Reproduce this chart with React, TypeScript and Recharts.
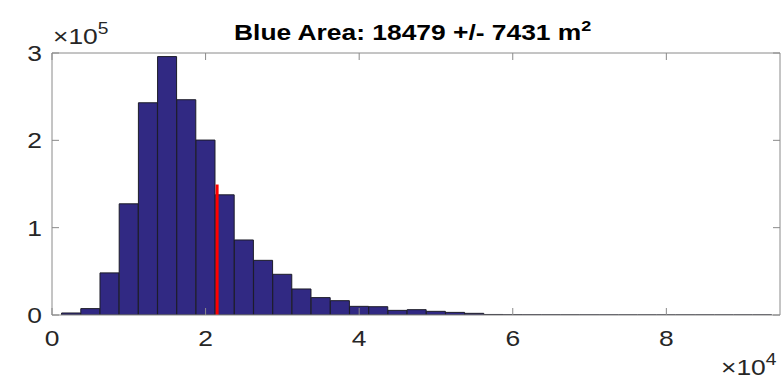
import {
  Bar,
  ComposedChart,
  Customized,
  Label,
  ReferenceLine,
  XAxis,
  YAxis,
} from "recharts";

// histogram bins (centre of each 2500 m² bin) and counts
const binCenters = [
  2500, 5000, 7500, 10000, 12500, 15000, 17500, 20000, 22500, 25000,
  27500, 30000, 32500, 35000, 37500, 40000, 42500, 45000, 47500, 50000,
  52500, 55000, 57500, 60000, 62500, 65000, 67500, 70000, 72500, 75000,
  77500, 80000, 82500, 85000, 87500, 90000, 92500,
];
const binCounts = [
  2300, 7300, 48200, 127300, 243000, 295900, 246500, 200300, 137600, 85900,
  62600, 46600, 29800, 19900, 16400, 9900, 9500, 5300, 6100, 4200,
  3000, 1900, 600, 300, 200, 150, 100, 80, 60, 40,
  40, 30, 20, 20, 10, 10, 10,
];
const xTicks = [0, 20000, 40000, 60000, 80000];
const yTicks = [0, 100000, 200000, 300000];
const xMax = 94800;
const yMax = 300000;
const markerX = 21500;
const markerTop = 149400;
const title = "Blue Area: 18479 +/- 7431 m";

const data = binCenters.map((x, i) => ({ x, count: binCounts[i] }));

const FONT = '"Liberation Sans", Arial, Helvetica, sans-serif';
const AXIS = "#8a8a8a";
const INK = "#262626";
const SX = 1.2; // the source image is stretched horizontally

function BottomTick({ x, y, payload }: any) {
  return (
    <g>
      <line x1={x} y1={y} x2={x} y2={y - 7} stroke={AXIS} />
      <text
        transform={`translate(${x},${y + 31}) scale(${SX},1)`}
        textAnchor="middle"
        fontFamily={FONT}
        fontSize={22}
        fill={INK}
      >
        {payload.value / 10000}
      </text>
    </g>
  );
}

function TopTick({ x, y }: any) {
  return <line x1={x} y1={y} x2={x} y2={y + 7} stroke={AXIS} />;
}

function LeftTick({ x, y, payload }: any) {
  return (
    <g>
      <line x1={x} y1={y} x2={x + 7} y2={y} stroke={AXIS} />
      <text
        transform={`translate(${x - 10},${y + 8}) scale(${SX},1)`}
        textAnchor="end"
        fontFamily={FONT}
        fontSize={22}
        fill={INK}
      >
        {payload.value / 100000}
      </text>
    </g>
  );
}

function RightTick({ x, y }: any) {
  return <line x1={x} y1={y} x2={x - 7} y2={y} stroke={AXIS} />;
}

function Exponent({ x, y, exp }: { x: number; y: number; exp: number }) {
  return (
    <text
      transform={`translate(${x},${y}) scale(${SX},1)`}
      fontFamily={FONT}
      fontSize={22}
      fill={INK}
    >
      ×10
      <tspan dy={-10} fontSize={16}>
        {exp}
      </tspan>
    </text>
  );
}

function Title() {
  return (
    <text
      transform={`translate(234,40) scale(${SX},1)`}
      fontFamily={FONT}
      fontSize={22}
      fontWeight="bold"
      fill="#000"
    >
      {title}
      <tspan dy={-9} fontSize={15}>
        2
      </tspan>
    </text>
  );
}

export default function App() {
  return (
    <div style={{ position: "absolute", left: 0, top: 0, width: 782, height: 379, background: "#fff" }}>
      <ComposedChart
        width={782}
        height={379}
        data={data}
        margin={{ top: 52, right: 1, bottom: 0, left: 0 }}
        barCategoryGap={0}
        barGap={0}
      >
        <XAxis
          xAxisId="bottom"
          dataKey="x"
          type="number"
          domain={[0, xMax]}
          ticks={xTicks}
          allowDataOverflow
          height={64}
          axisLine={{ stroke: AXIS }}
          tickLine={false}
          tickSize={0}
          tickMargin={0}
          tick={<BottomTick />}
          interval={0}
        >
          <Label
            content={({ viewBox }: any) => (
              <Exponent x={viewBox.x + viewBox.width - 59} y={viewBox.y + 60} exp={4} />
            )}
          />
        </XAxis>
        <XAxis
          xAxisId="top"
          orientation="top"
          dataKey="x"
          type="number"
          domain={[0, xMax]}
          ticks={xTicks}
          allowDataOverflow
          height={1}
          axisLine={{ stroke: AXIS }}
          tickLine={false}
          tickSize={0}
          tickMargin={0}
          tick={<TopTick />}
          interval={0}
        />
        <YAxis
          yAxisId="left"
          type="number"
          domain={[0, yMax]}
          ticks={yTicks}
          allowDataOverflow
          width={52}
          axisLine={{ stroke: AXIS }}
          tickLine={false}
          tickSize={0}
          tickMargin={0}
          tick={<LeftTick />}
          interval={0}
        >
          <Label
            content={({ viewBox }: any) => (
              <Exponent x={viewBox.x + viewBox.width + 1} y={viewBox.y - 9} exp={5} />
            )}
          />
        </YAxis>
        <YAxis
          yAxisId="right"
          orientation="right"
          type="number"
          domain={[0, yMax]}
          ticks={yTicks}
          allowDataOverflow
          width={1}
          axisLine={{ stroke: AXIS }}
          tickLine={false}
          tickSize={0}
          tickMargin={0}
          tick={<RightTick />}
          interval={0}
        />
        <Bar
          xAxisId="bottom"
          yAxisId="left"
          dataKey="count"
          fill="#312983"
          stroke="#1c1c28"
          strokeWidth={1}
          isAnimationActive={false}
        />
        <ReferenceLine
          xAxisId="bottom"
          yAxisId="left"
          segment={[
            { x: markerX, y: 0 },
            { x: markerX, y: markerTop },
          ]}
          stroke="#ff0000"
          strokeWidth={3}
        />
        <Customized component={Title} />
      </ComposedChart>
    </div>
  );
}
